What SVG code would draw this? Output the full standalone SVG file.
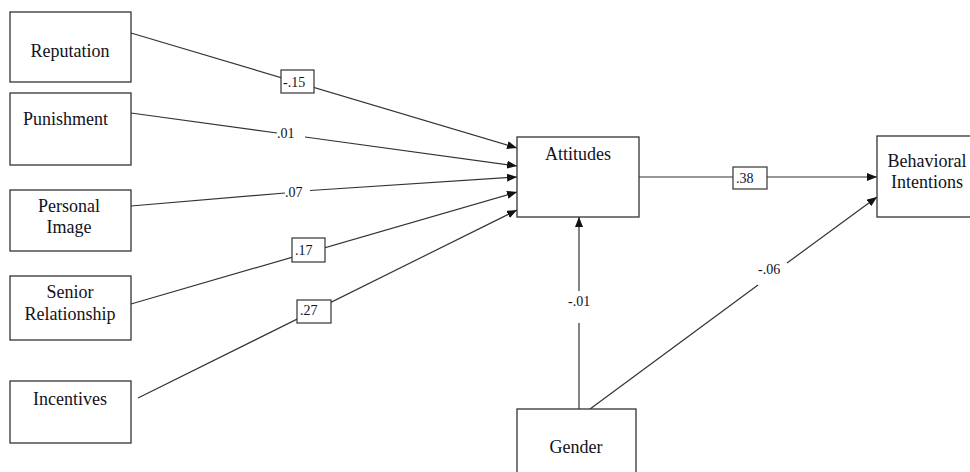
<svg xmlns="http://www.w3.org/2000/svg" width="970" height="472" viewBox="0 0 970 472">
  <style>
    .box { fill: #ffffff; stroke: #333333; stroke-width: 1.3; }
    .node-text { font-family: "Liberation Serif", "Times New Roman", serif; font-size: 18px; fill: #111122; text-anchor: middle; }
    .edge { stroke: #333333; stroke-width: 1.2; fill: none; }
    .arrow { marker-end: url(#head); }
    .lbl-box { fill: #ffffff; stroke: #333333; stroke-width: 1.2; }
    .lbl { font-family: "Liberation Serif", "Times New Roman", serif; font-size: 14px; fill: #111122; }
  </style>
  <defs>
    <marker id="head" viewBox="0 0 10 8" refX="10" refY="4" markerWidth="10" markerHeight="8" markerUnits="userSpaceOnUse" orient="auto">
      <path d="M0,0 L10,4 L0,8 Z" fill="#111111"/>
    </marker>
  </defs>
  <rect width="970" height="472" fill="#ffffff"/>

  <!-- connectors -->
  <g id="connectors">
    <line class="edge arrow" x1="131" y1="33" x2="517" y2="148"/>
    <polyline class="edge" points="131,113 277,133"/>
    <line class="edge arrow" x1="305" y1="137" x2="517" y2="166"/>
    <polyline class="edge" points="131,206 285,193"/>
    <line class="edge arrow" x1="310" y1="190.5" x2="517" y2="177"/>
    <line class="edge arrow" x1="131" y1="304" x2="517" y2="192"/>
    <line class="edge arrow" x1="138" y1="398" x2="517" y2="210"/>
    <line class="edge arrow" x1="639" y1="177" x2="877" y2="177"/>
    <line class="edge" x1="579" y1="409" x2="579" y2="323"/>
    <line class="edge arrow" x1="579" y1="291" x2="579" y2="217"/>
    <line class="edge" x1="590" y1="409" x2="758" y2="285"/>
    <line class="edge arrow" x1="787" y1="263" x2="877" y2="197"/>

    <!-- path coefficients -->
    <rect class="lbl-box" x="281" y="70" width="33" height="23"/>
    <text class="lbl" x="283" y="87">-.15</text>
    <text class="lbl" x="277" y="138">.01</text>
    <text class="lbl" x="285" y="197">.07</text>
    <rect class="lbl-box" x="292" y="238" width="33" height="24"/>
    <text class="lbl" x="295" y="255">.17</text>
    <rect class="lbl-box" x="297" y="300" width="34" height="23"/>
    <text class="lbl" x="300" y="315">.27</text>
    <rect class="lbl-box" x="733" y="167" width="34" height="22"/>
    <text class="lbl" x="736" y="183">.38</text>
    <text class="lbl" x="568" y="306">-.01</text>
    <text class="lbl" x="758" y="274">-.06</text>
  </g>

  <!-- predictor nodes -->
  <g id="reputation">
    <rect class="box" x="10" y="12" width="121" height="70"/>
    <text class="node-text" x="70" y="57">Reputation</text>
  </g>
  <g id="punishment">
    <rect class="box" x="10" y="93" width="121" height="72"/>
    <text class="node-text" x="65.5" y="125">Punishment</text>
  </g>
  <g id="personal-image">
    <rect class="box" x="10" y="190" width="121" height="61"/>
    <text class="node-text" x="69" y="212">Personal</text>
    <text class="node-text" x="69" y="233">Image</text>
  </g>
  <g id="senior-relationship">
    <rect class="box" x="10" y="276" width="121" height="64"/>
    <text class="node-text" x="70" y="298">Senior</text>
    <text class="node-text" x="70" y="320">Relationship</text>
  </g>
  <g id="incentives">
    <rect class="box" x="10" y="381" width="121" height="62"/>
    <text class="node-text" x="70" y="405">Incentives</text>
  </g>

  <!-- outcome nodes -->
  <g id="attitudes">
    <rect class="box" x="517" y="137" width="122" height="80"/>
    <text class="node-text" x="578" y="160">Attitudes</text>
  </g>
  <g id="behavioral-intentions">
    <rect class="box" x="877" y="136" width="100" height="81"/>
    <text class="node-text" x="927" y="167">Behavioral</text>
    <text class="node-text" x="927" y="188">Intentions</text>
  </g>
  <g id="gender">
    <rect class="box" x="517" y="409" width="119" height="80"/>
    <text class="node-text" x="576" y="453">Gender</text>
  </g>
</svg>
